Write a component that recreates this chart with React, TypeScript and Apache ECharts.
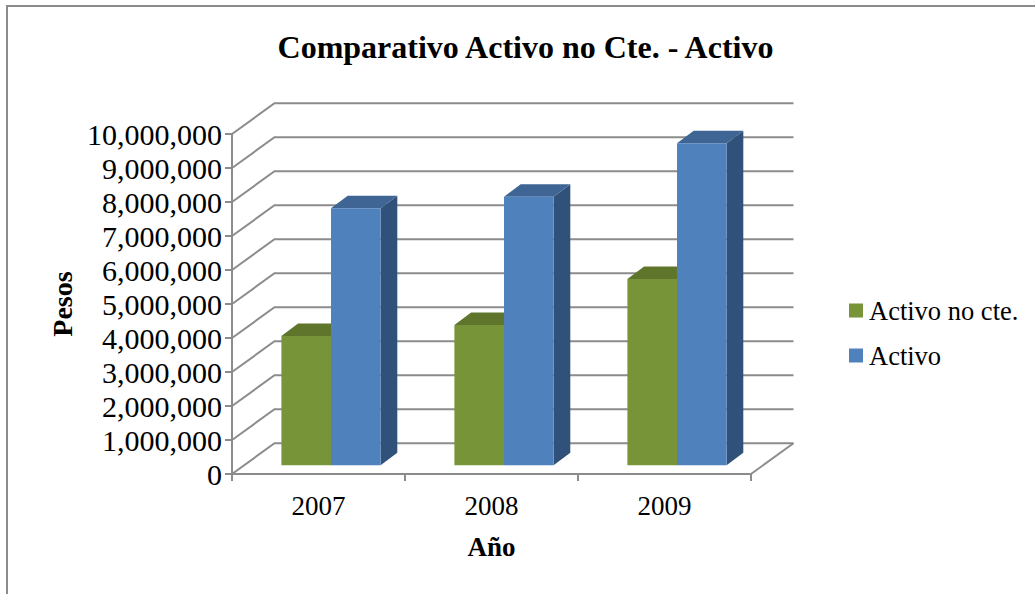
import React, { useEffect, useRef } from "react";
import * as echarts from "echarts";

const years = ["2007", "2008", "2009"];
const activoNoCte = [3800000, 4130000, 5480000];
const activo = [7560000, 7900000, 9470000];
const gridValues = [0, 1000000, 2000000, 3000000, 4000000, 5000000, 6000000, 7000000, 8000000, 9000000, 10000000];

const FONT = '"Liberation Serif", "Times New Roman", serif';
const AXIS_GREY = "#8c8c8c";
const WALL_DX = 42.5;
const WALL_DY = -30.7;
const BAR_DEPTH_DX = 16.7;
const BAR_DEPTH_DY = -12.5;
const PLANE_DX = 12.5;
const PLANE_DY = -8.7;
const BAR_WIDTH = 49.6;

// One prism: front face, top face and right side, projected with a fixed oblique offset.
function prism(side: number, front: string, top: string, right: string) {
  return (params: any, api: any) => {
    const catIndex = api.value(0);
    const top0 = api.coord([catIndex, api.value(1)]);
    const base0 = api.coord([catIndex, 0]);
    const x0 = top0[0] + PLANE_DX + (side < 0 ? -BAR_WIDTH : 0);
    const x1 = x0 + BAR_WIDTH;
    const yT = top0[1] + PLANE_DY;
    const yB = base0[1] + PLANE_DY;
    const dx = BAR_DEPTH_DX;
    const dy = BAR_DEPTH_DY;
    return {
      type: "group",
      children: [
        {
          type: "polygon",
          shape: { points: [[x1, yB], [x1 + dx, yB + dy], [x1 + dx, yT + dy], [x1, yT]] },
          style: { fill: right },
        },
        {
          type: "polygon",
          shape: { points: [[x0, yT], [x0 + dx, yT + dy], [x1 + dx, yT + dy], [x1, yT]] },
          style: { fill: top },
        },
        {
          type: "rect",
          shape: { x: x0, y: yT, width: BAR_WIDTH, height: yB - yT },
          style: { fill: front },
        },
      ],
    };
  };
}

// Side wall and back wall rules for each value tick; the floor edge joins in at zero.
function wallLine(params: any, api: any) {
  const rect = params.coordSys;
  const v = api.value(0);
  const y = api.coord([0, v])[1];
  const left = rect.x;
  const right = rect.x + rect.width;
  const children: any[] = [
    {
      type: "polyline",
      shape: {
        points: [
          [left, y],
          [left + WALL_DX, y + WALL_DY],
          [right + WALL_DX, y + WALL_DY],
        ],
      },
      style: { stroke: AXIS_GREY, lineWidth: 2, fill: "none" },
    },
  ];
  if (v === 0) {
    children.push({
      type: "line",
      shape: { x1: right, y1: y, x2: right + WALL_DX, y2: y + WALL_DY },
      style: { stroke: AXIS_GREY, lineWidth: 2 },
    });
  }
  return { type: "group", children };
}

export default function App() {
  const ref = useRef<HTMLDivElement>(null);

  useEffect(() => {
    document.body.style.margin = "0";
    const chart = echarts.init(ref.current!, null, { renderer: "svg" });
    chart.setOption({
      animation: false,
      backgroundColor: "#ffffff",
      textStyle: { fontFamily: FONT, color: "#000000" },
      title: {
        text: "Comparativo Activo no Cte. - Activo",
        left: 520.5,
        top: 26,
        textAlign: "center",
        textStyle: { fontFamily: FONT, fontSize: 32, fontWeight: "bold", color: "#000000" },
      },
      legend: {
        orient: "vertical",
        left: 844,
        top: 292,
        itemWidth: 14,
        itemHeight: 14,
        itemGap: 18,
        icon: "rect",
        data: ["Activo no cte.", "Activo"],
        textStyle: { fontFamily: FONT, fontSize: 26.5, color: "#000000", padding: [0, 0, 0, 1] },
      },
      grid: { left: 232, top: 134, width: 519, height: 340 },
      xAxis: {
        type: "category",
        data: years,
        name: "Año",
        nameLocation: "middle",
        nameGap: 59,
        nameTextStyle: { fontFamily: FONT, fontSize: 27, fontWeight: "bold", color: "#000000" },
        axisLine: { lineStyle: { color: AXIS_GREY, width: 2 } },
        axisTick: { show: true, alignWithLabel: false, length: 7, lineStyle: { color: AXIS_GREY, width: 2 } },
        axisLabel: { fontFamily: FONT, fontSize: 27, color: "#000000", margin: 18 },
        splitLine: { show: false },
      },
      yAxis: {
        type: "value",
        min: 0,
        max: 10000000,
        interval: 1000000,
        name: "Pesos",
        nameLocation: "middle",
        nameGap: 154,
        nameRotate: 90,
        nameTextStyle: { fontFamily: FONT, fontSize: 28, fontWeight: "bold", color: "#000000" },
        axisLine: { show: true, lineStyle: { color: AXIS_GREY, width: 2 } },
        axisTick: { show: true, length: 7, lineStyle: { color: AXIS_GREY, width: 2 } },
        axisLabel: {
          fontFamily: FONT,
          fontSize: 30,
          color: "#000000",
          margin: 10,
          formatter: (v: number) => v.toLocaleString("en-US"),
        },
        splitLine: { show: false },
      },
      series: [
        {
          type: "custom",
          silent: true,
          clip: false,
          z: 1,
          renderItem: wallLine,
          encode: { y: 0 },
          data: gridValues.map((v) => [v]),
        },
        {
          type: "custom",
          name: "Activo no cte.",
          clip: false,
          z: 2,
          itemStyle: { color: "#779438" },
          renderItem: prism(-1, "#779438", "#5f752c", "#4f6225"),
          encode: { x: 0, y: 1 },
          data: activoNoCte.map((v, i) => [i, v]),
        },
        {
          type: "custom",
          name: "Activo",
          clip: false,
          z: 3,
          itemStyle: { color: "#4f81bd" },
          renderItem: prism(1, "#4f81bd", "#3e6593", "#30527a"),
          encode: { x: 0, y: 1 },
          data: activo.map((v, i) => [i, v]),
        },
      ],
      graphic: [
        {
          type: "polyline",
          silent: true,
          shape: { points: [[7, 594], [7, 6], [1035, 6]] },
          style: { stroke: AXIS_GREY, lineWidth: 2, fill: "none" },
        },
      ],
    });
    return () => chart.dispose();
  }, []);

  return <div ref={ref} style={{ width: 1035, height: 594 }} />;
}
